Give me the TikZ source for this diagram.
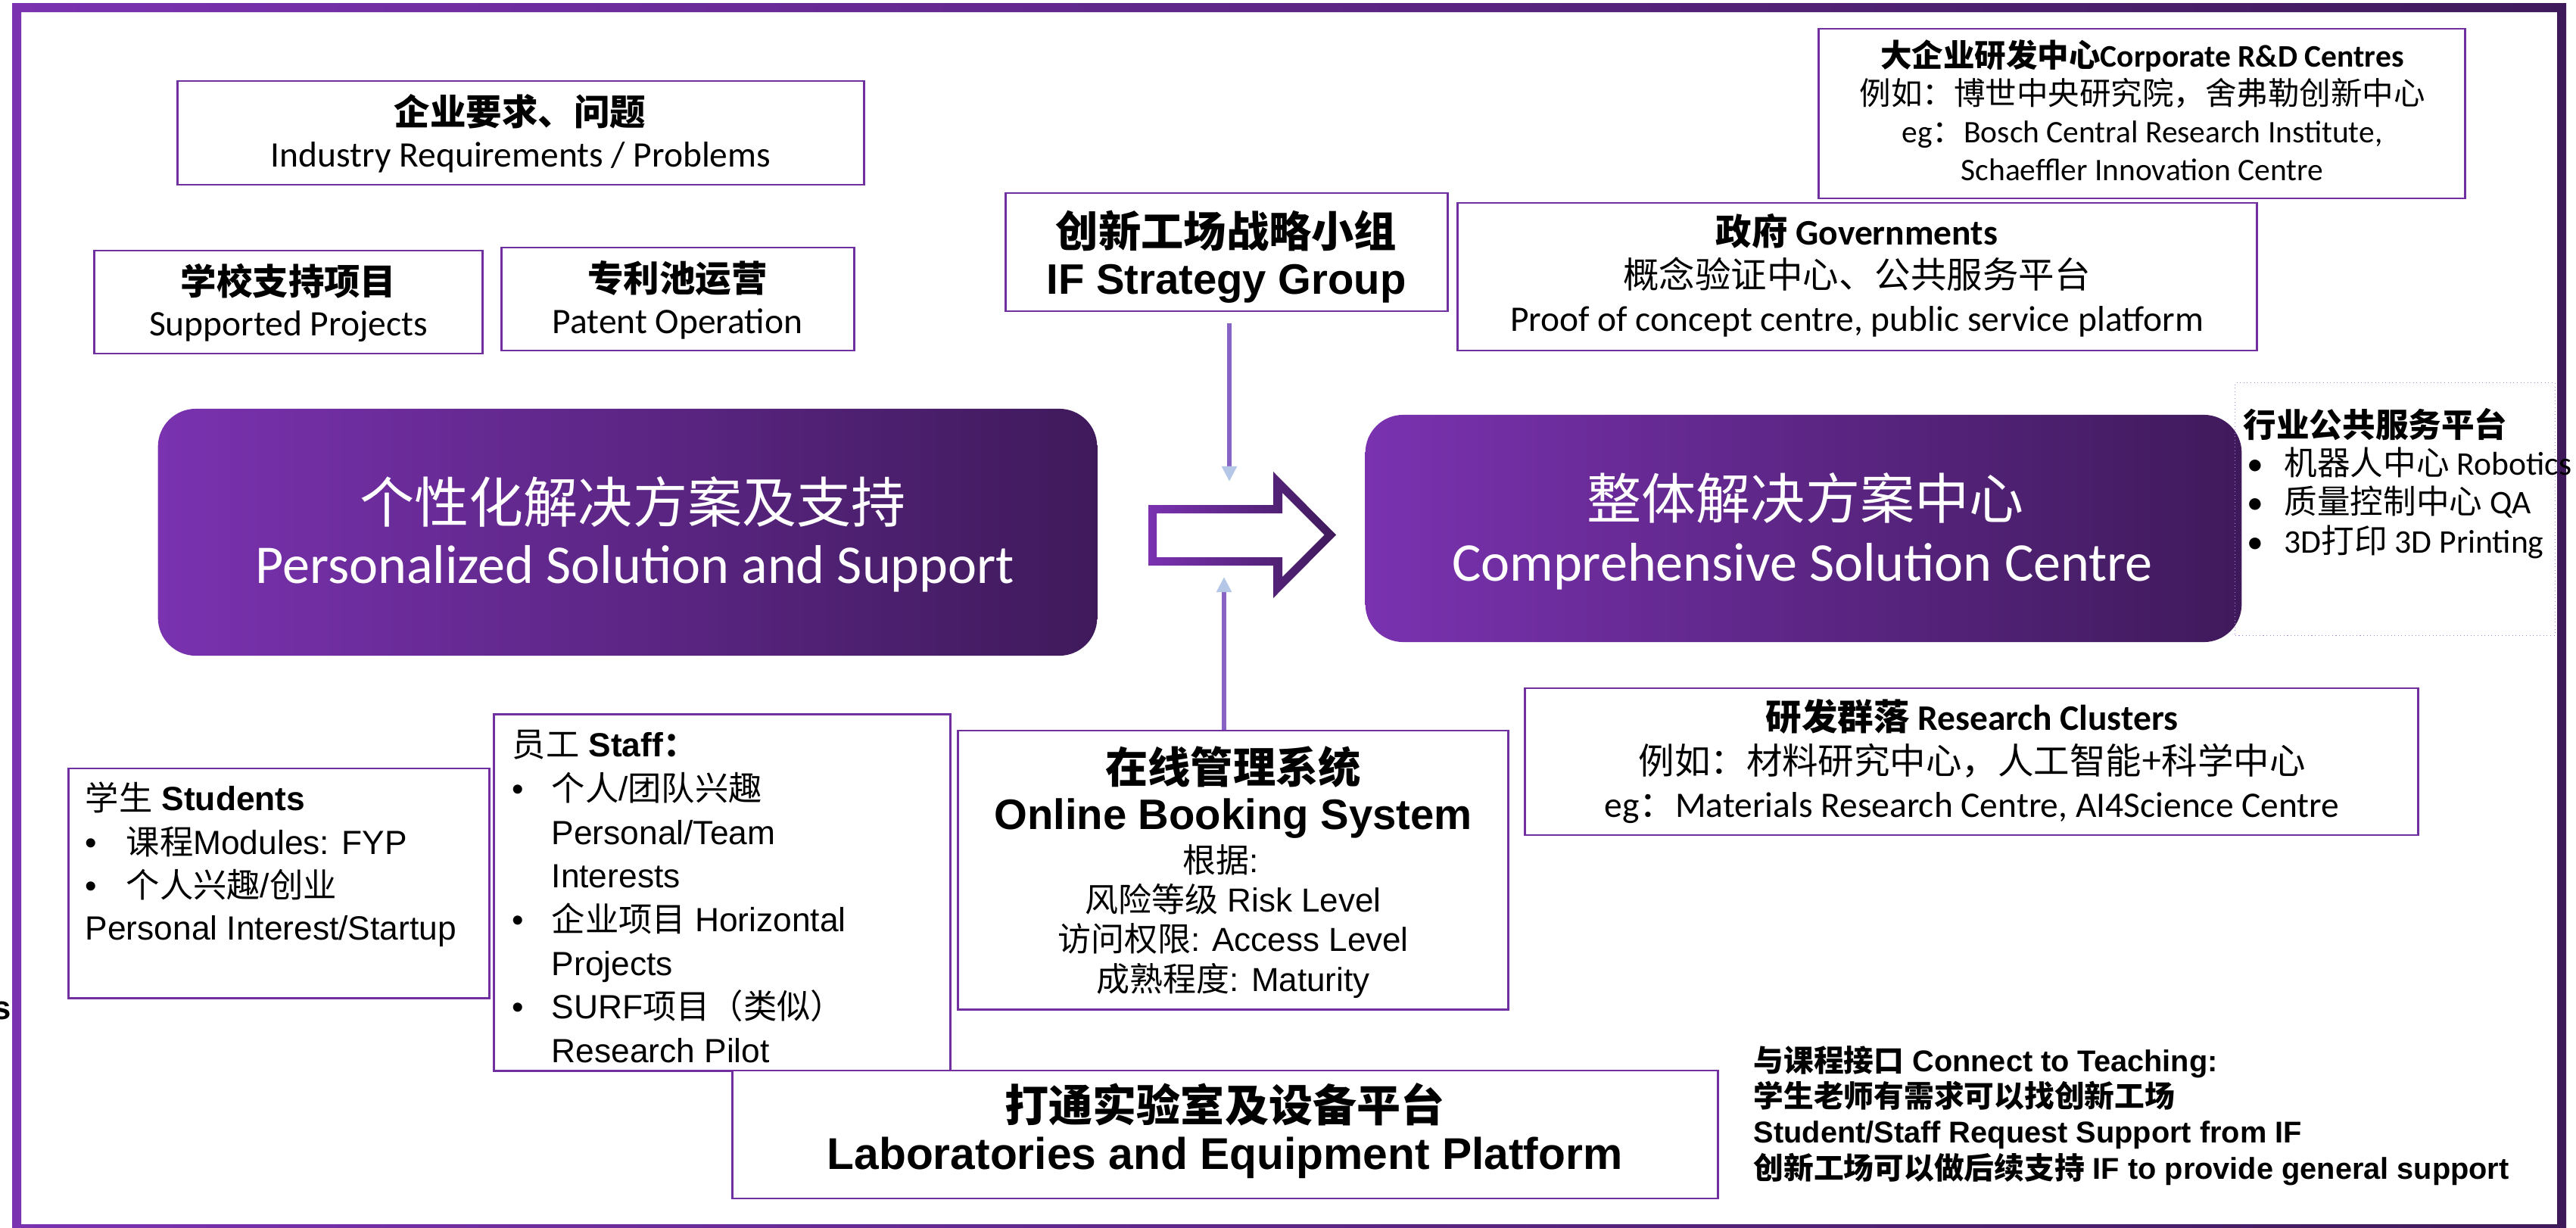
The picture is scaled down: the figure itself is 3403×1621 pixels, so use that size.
\documentclass[tikz,border=0pt]{standalone}
\usepackage{fontspec}
\setmainfont{Carlito}
\newfontfamily\arialfont{Liberation Sans}
\newfontfamily\zhfont{Noto Sans CJK SC}
\newcommand\zh[1]{{\zhfont #1}}
\newcommand\fs[1]{\fontsize{#1pt}{#1pt}\selectfont}
\newcommand\bul[1]{\makebox[#1][l]{•}}
\usetikzlibrary{arrows.meta}

\definecolor{boxpurple}{HTML}{7030A0}
\definecolor{gradleft}{HTML}{7A32B0}
\definecolor{gradright}{HTML}{3F1A5B}
\definecolor{linepurple}{HTML}{8764C4}
\definecolor{tipblue}{HTML}{B4C7E7}
\definecolor{dotpurple}{HTML}{A889D6}

\tikzset{
  box/.style={draw=boxpurple, line width=0.8pt, fill=white},
  bigbox/.style={rounded corners=0.5cm, left color=gradleft, right color=gradright},
  feed/.style={draw=linepurple, line width=1.7pt, -{Triangle[length=0.2cm, width=0.19cm, color=tipblue]}},
  calib/.style={font=\fs{13.5}, anchor=base, inner sep=0pt},
  arial/.style={font=\arialfont\fs{12.6}, anchor=base west, inner sep=0pt},
  whitetxt/.style={font=\fs{20.5}, text=white, anchor=base, inner sep=0pt}
}

\begin{document}
\begin{tikzpicture}[x=0.01cm, y=-0.01cm]
\useasboundingbox (0,0) rectangle (3403,1621);
\fill[white] (0,0) rectangle (3403,1621);

% frame
\shade[left color=gradleft, right color=gradright, even odd rule] (16,4) rectangle (3390,1629) (28,16) rectangle (3378,1617);

% top left boxes
\node[box, minimum width=9.06cm, minimum height=1.37cm] (indreq) at (688,175.5) {};
\node[calib, font=\bfseries\fs{13.5}] (indreq1) at (687,165) {\zh{企业要求、问题}};
\node[calib] (indreq2) at (688,220) {Industry Requirements / Problems};

\node[box, minimum width=5.12cm, minimum height=1.36cm] (supp) at (381,399) {};
\node[calib, font=\bfseries\fs{13.5}] (supp1) at (381,389) {\zh{学校支持项目}};
\node[calib] (supp2) at (381,443) {Supported Projects};

\node[box, minimum width=4.65cm, minimum height=1.36cm] (patent) at (895.5,395) {};
\node[calib, font=\bfseries\fs{13.5}] (patent1) at (895,385) {\zh{专利池运营}};
\node[calib] (patent2) at (895,440) {Patent Operation};

% top right boxes
\node[box, minimum width=8.53cm, minimum height=2.24cm] (corp) at (2829.5,150) {};
\node[calib, font=\bfseries\fs{11.8}] (corp1) at (2830,88) {\zh{大企业研发中心}Corporate R\&D Centres};
\node[calib, font=\fs{11.8}] (corp2) at (2830,138) {\zh{例如：博世中央研究院，舍弗勒创新中心}};
\node[calib, font=\fs{11.8}] (corp3) at (2830,188) {eg\zh{：}Bosch Central Research Institute,};
\node[calib, font=\fs{11.8}] (corp4) at (2830,238) {Schaeffler Innovation Centre};

\node[box, minimum width=5.83cm, minimum height=1.56cm] (ifgroup) at (1620.5,333) {};
\node[calib, font=\bfseries\fs{16}] (ifgroup1) at (1620,326) {\zh{创新工场战略小组}};
\node[calib, font=\arialfont\bfseries\fs{16}] (ifgroup2) at (1620,388) {IF Strategy Group};

\node[box, minimum width=10.55cm, minimum height=1.95cm] (gov) at (2453.5,365.5) {};
\node[calib, font=\bfseries\fs{13.5}] (gov1) at (2453,323) {\zh{政府} Governments};
\node[calib] (gov2) at (2453,380) {\zh{概念验证中心、公共服务平台}};
\node[calib] (gov3) at (2453,437) {Proof of concept centre, public service platform};

% middle
\node[bigbox, minimum width=12.40cm, minimum height=3.26cm] (personal) at (829,703) {};
\node[whitetxt] (personal1) at (836,690) {\zh{个性化解决方案及支持}};
\node[whitetxt] (personal2) at (839,770) {Personalized Solution and Support};

\node[bigbox, minimum width=11.57cm, minimum height=3.00cm] (comp) at (2382.5,698) {};
\node[whitetxt] (comp1) at (2385,685) {\zh{整体解决方案中心}};
\node[whitetxt] (comp2) at (2381,767) {Comprehensive Solution Centre};

\node[draw=dotpurple, densely dotted, line width=0.3pt, minimum width=4.22cm, minimum height=3.33cm] (indpub) at (3164,672.5) {};
\node[arial, font=\bfseries\fs{12.4}] (indpub1) at (2963,577) {\zh{行业公共服务平台}};
\node[arial, font=\fs{12.4}] (indpub2) at (2968,627) {\bul{0.49cm}\zh{机器人中心} Robotics};
\node[arial, font=\fs{12.4}] (indpub3) at (2968,678) {\bul{0.49cm}\zh{质量控制中心} QA};
\node[arial, font=\fs{12.4}] (indpub4) at (2968,730) {\bul{0.49cm}3D\zh{打印} 3D Printing};

\shade[left color=gradleft, right color=gradright, even odd rule]
  (1517,667) -- (1682,667) -- (1682,623) -- (1765,706.5) -- (1682,790) -- (1682,747) -- (1517,747) -- cycle
  (1528,678) -- (1694,678) -- (1694,651) -- (1749.5,706.5) -- (1694,762) -- (1694,736) -- (1528,736) -- cycle;

% bottom boxes
\node[box, minimum width=5.55cm, minimum height=3.03cm] (stud) at (368.5,1166.5) {};
\node[arial] (stud1) at (112,1070) {\zh{学生} \textbf{Students}};
\node[arial] (stud2) at (112,1128) {\bul{0.54cm}\zh{课程}Modules: FYP};
\node[arial] (stud3) at (112,1185) {\bul{0.54cm}\zh{个人兴趣}/\zh{创业}};
\node[arial] (stud4) at (112,1241) {Personal Interest/Startup};

\node[box, minimum width=6.02cm, minimum height=4.70cm] (staff) at (954,1179) {};
\node[arial] (staff1) at (676,999) {\zh{员工} \textbf{Staff\zh{：}}};
\node[arial] (staff2) at (676,1057) {\bul{0.52cm}\zh{个人}/\zh{团队兴趣}};
\node[arial] (staff3) at (728,1115) {Personal/Team};
\node[arial] (staff4) at (728,1172) {Interests};
\node[arial] (staff5) at (676,1230) {\bul{0.52cm}\zh{企业项目} Horizontal};
\node[arial] (staff6) at (728,1288) {Projects};
\node[arial] (staff7) at (676,1345) {\bul{0.52cm}SURF\zh{项目（类似）}};
\node[arial] (staff8) at (728,1403) {Research Pilot};

\node[box, minimum width=7.26cm, minimum height=3.68cm] (booking) at (1629,1149) {};
\node[calib, font=\bfseries\fs{16}] (booking1) at (1629,1034) {\zh{在线管理系统}};
\node[calib, font=\arialfont\bfseries\fs{16}] (booking2) at (1629,1095) {Online Booking System};
\node[calib, font=\arialfont\fs{12.5}] (booking3) at (1613,1152) {\zh{根据}:};
\node[calib, font=\arialfont\fs{12.5}] (booking4) at (1629,1204) {\zh{风险等级} Risk Level};
\node[calib, font=\arialfont\fs{12.5}] (booking5) at (1629,1256) {\zh{访问权限}: Access Level};
\node[calib, font=\arialfont\fs{12.5}] (booking6) at (1629,1309) {\zh{成熟程度}: Maturity};

\node[box, minimum width=11.79cm, minimum height=1.94cm] (clusters) at (2604.5,1006) {};
\node[calib, font=\bfseries\fs{13.5}] (clusters1) at (2605,964) {\zh{研发群落} Research Clusters};
\node[calib] (clusters2) at (2605,1022) {\zh{例如：材料研究中心，人工智能+科学中心}};
\node[calib] (clusters3) at (2605,1079) {eg\zh{：}Materials Research Centre, AI4Science Centre};

\node[box, minimum width=13.01cm, minimum height=1.69cm] (labs) at (1618.5,1498.5) {};
\node[calib, font=\bfseries\fs{16.5}] (labs1) at (1618,1481) {\zh{打通实验室及设备平台}};
\node[calib, font=\arialfont\bfseries\fs{16.7}] (labs2) at (1618,1544) {Laboratories and Equipment Platform};

\node[arial, font=\arialfont\bfseries\fs{11.3}] (teach1) at (2316,1415) {\zh{与课程接口} Connect to Teaching:};
\node[arial, font=\arialfont\bfseries\fs{11.3}] (teach2) at (2316,1462) {\zh{学生老师有需求可以找创新工场}};
\node[arial, font=\arialfont\bfseries\fs{11.3}] (teach3) at (2316,1509) {Student/Staff Request Support from IF};
\node[arial, font=\arialfont\bfseries\fs{11.3}] (teach4) at (2316,1557) {\zh{创新工场可以做后续支持} IF to provide general support};

\node[anchor=base east, inner sep=0pt, font=\arialfont\bfseries\fs{12.4}] (cut) at (15,1346) {s};

% feeds into the arrow
\coordinate (ifin) at (1624,636);
\coordinate (obsin) at (1617,762);
\draw[feed, shorten <=0.15cm] (ifgroup.south -| ifin) -- (ifin);
\draw[feed] (booking.north -| obsin) -- (obsin);
\end{tikzpicture}
\end{document}
